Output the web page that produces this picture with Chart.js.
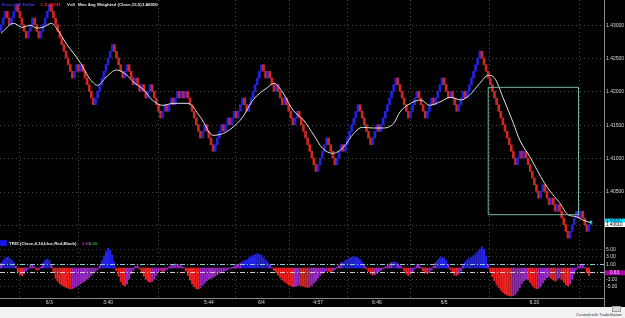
<!DOCTYPE html>
<html>
<head>
<meta charset="utf-8">
<script src="https://cdn.jsdelivr.net/npm/chart.js@4.4.1/dist/chart.umd.min.js"></script>
<style>
  body { margin: 0; background: #000; width: 625px; height: 318px; overflow: hidden; position: relative; font-family: Arial, "Liberation Sans", sans-serif; }
  canvas { position: absolute; left: 0; }
  #main { top: 0; }
  #trix { top: 240px; }
  .t { position: absolute; white-space: nowrap; font-size: 6px; line-height: 7px; font-weight: bold; transform: scale(0.72); transform-origin: 0 0; }
  .sep { position: absolute; background: #8a8a8a; }
  #foot { position: absolute; left: 0; top: 307px; width: 625px; height: 11px; background: #f2f2f2; }
</style>
</head>
<body>
<canvas id="main" width="625" height="240"></canvas>
<canvas id="trix" width="625" height="67"></canvas>

<div class="sep" style="left:604px;top:0;width:1px;height:307px"></div>
<div class="sep" style="left:0;top:298px;width:604px;height:1px"></div>

<div class="t" style="left:2px;top:2px;color:#3c3cff">Euro / US Dollar</div>
<div class="t" style="left:41px;top:2px;color:#ff3030">L-0.01731</div>
<div class="t" style="left:67px;top:2px;color:#e8e8e8">V=0</div>
<div class="t" style="left:78px;top:2px;color:#e8e8e8">Mov Avg Weighted (Close,15,0)</div>
<div class="t" style="left:142px;top:2px;color:#ffffff">1.40010</div>

<div style="position:absolute;left:0;top:240px;width:7px;height:6px;background:#1414dc"></div>
<div class="t" style="left:9px;top:241px;color:#e8e8e8">TRIX (Close,4,14,blue,Red,Black)</div>
<div class="t" style="left:82px;top:241px;color:#b030b0">0.63</div>
<div class="t" style="left:89px;top:241px;color:#30b030">0.00</div>

<div id="foot">
  <div style="position:absolute;left:612px;top:-1px;width:7px;height:4px;background:#d8d8d8;border:1px solid #a0a0a0"></div>
  <div class="t" style="left:576px;top:6px;color:#333;font-weight:normal;transform:scale(0.66)">Created with TradeStation</div>
</div>

<script>
// renko brick closes, 0.001 box
const brickSize = 0.001;
const closes = [
  1.4301, 1.4311, 1.4321, 1.4311, 1.4301, 1.4311, 1.4321, 1.4331, 1.4321, 1.4311,
  1.4301, 1.4291, 1.4281, 1.4291, 1.4301, 1.4311, 1.4301, 1.4291, 1.4281, 1.4291,
  1.4301, 1.4311, 1.4321, 1.4331, 1.4321, 1.4311, 1.4301, 1.4291, 1.4281, 1.4271,
  1.4261, 1.4251, 1.4241, 1.4231, 1.4221, 1.4231, 1.4241, 1.4231, 1.4241, 1.4231,
  1.4221, 1.4211, 1.4201, 1.4191, 1.4181, 1.4191, 1.4201, 1.4211, 1.4221, 1.4231,
  1.4241, 1.4251, 1.4261, 1.4271, 1.4261, 1.4251, 1.4241, 1.4231, 1.4221, 1.4231,
  1.4241, 1.4231, 1.4221, 1.4211, 1.4221, 1.4211, 1.4201, 1.4211, 1.4201, 1.4191,
  1.4201, 1.4211, 1.4201, 1.4191, 1.4181, 1.4171, 1.4161, 1.4171, 1.4181, 1.4171,
  1.4181, 1.4191, 1.4181, 1.4191, 1.4201, 1.4191, 1.4201, 1.4191, 1.4201, 1.4191,
  1.4181, 1.4171, 1.4161, 1.4151, 1.4141, 1.4131, 1.4141, 1.4151, 1.4141, 1.4131,
  1.4121, 1.4111, 1.4121, 1.4131, 1.4141, 1.4151, 1.4141, 1.4151, 1.4161, 1.4151,
  1.4161, 1.4171, 1.4161, 1.4171, 1.4181, 1.4191, 1.4181, 1.4171, 1.4181, 1.4191,
  1.4201, 1.4211, 1.4221, 1.4231, 1.4241, 1.4231, 1.4221, 1.4231, 1.4221, 1.4211,
  1.4201, 1.4211, 1.4201, 1.4191, 1.4181, 1.4191, 1.4181, 1.4171, 1.4161, 1.4151,
  1.4161, 1.4171, 1.4161, 1.4151, 1.4141, 1.4131, 1.4121, 1.4111, 1.4101, 1.4091,
  1.4081, 1.4091, 1.4101, 1.4111, 1.4121, 1.4131, 1.4121, 1.4111, 1.4101, 1.4091,
  1.4101, 1.4111, 1.4121, 1.4111, 1.4121, 1.4131, 1.4141, 1.4151, 1.4161, 1.4171,
  1.4181, 1.4171, 1.4161, 1.4151, 1.4141, 1.4131, 1.4121, 1.4131, 1.4141, 1.4151,
  1.4141, 1.4151, 1.4161, 1.4171, 1.4181, 1.4191, 1.4201, 1.4211, 1.4221, 1.4211,
  1.4201, 1.4191, 1.4181, 1.4171, 1.4161, 1.4171, 1.4181, 1.4191, 1.4201, 1.4191,
  1.4181, 1.4171, 1.4161, 1.4171, 1.4181, 1.4191, 1.4181, 1.4191, 1.4201, 1.4211,
  1.4221, 1.4211, 1.4201, 1.4191, 1.4201, 1.4191, 1.4181, 1.4171, 1.4181, 1.4191,
  1.4201, 1.4191, 1.4201, 1.4211, 1.4221, 1.4231, 1.4241, 1.4251, 1.4261, 1.4251,
  1.4241, 1.4231, 1.4221, 1.4211, 1.4201, 1.4191, 1.4181, 1.4171, 1.4161, 1.4151,
  1.4141, 1.4131, 1.4121, 1.4111, 1.4101, 1.4091, 1.4101, 1.4111, 1.4101, 1.4111,
  1.4101, 1.4091, 1.4081, 1.4071, 1.4061, 1.4051, 1.4041, 1.4051, 1.4061, 1.4051,
  1.4041, 1.4031, 1.4041, 1.4031, 1.4021, 1.4031, 1.4021, 1.4011, 1.4001, 1.3991,
  1.3981, 1.3991, 1.4001, 1.4011, 1.4021, 1.4011, 1.4021, 1.4011, 1.4001, 1.3991,
  1.4001
];

// weighted moving average (15)
const maIndex = [0, 6, 10, 14, 17, 20, 24, 27, 31, 38, 42, 46, 50, 55, 60, 63, 68, 72, 77, 82,
  89, 95, 101, 106, 110, 115, 120, 127, 130, 134, 139, 144, 149, 153, 158, 163, 168, 172, 177, 182,
  187, 190, 195, 200, 204, 209, 214, 219, 223, 228, 232, 235, 239, 244, 247, 252, 257, 261, 266, 270,
  274, 277, 281];
const maValues = [1.4288, 1.4303, 1.4297, 1.4300, 1.4296, 1.4297, 1.4303, 1.4293, 1.4273, 1.4243,
  1.4221, 1.4210, 1.4222, 1.4233, 1.4225, 1.4215, 1.4203, 1.4188, 1.4180, 1.4183,
  1.4183, 1.4162, 1.4135, 1.4138, 1.4146, 1.4162, 1.4188, 1.4207, 1.4213, 1.4200,
  1.4173, 1.4158, 1.4135, 1.4116, 1.4108, 1.4117, 1.4138, 1.4147, 1.4146, 1.4146,
  1.4153, 1.4170, 1.4183, 1.4188, 1.4180, 1.4185, 1.4192, 1.4188, 1.4195, 1.4213,
  1.4225, 1.4221, 1.4192, 1.4153, 1.4128, 1.4102, 1.4073, 1.4053, 1.4034, 1.4016,
  1.4013, 1.4008, 1.4004];

// TRIX histogram, one value per brick
const trixValues = [
  1.2, 2.0, 2.6, 2.9, 2.7, 2.2, 1.5, 0.5, -1.0, -1.8,
  -2.1, -1.6, -0.8, -0.2, 0.8, 1.0, 0.3, -0.6, -0.4, 0.3,
  1.2, 2.0, 2.4, 2.0, 1.0, -1.2, -2.8, -3.6, -4.2, -4.6,
  -4.9, -5.2, -5.4, -5.6, -5.5, -5.3, -4.9, -4.6, -4.2, -3.8,
  -3.5, -3.0, -2.6, -2.0, -1.4, -0.9, -0.4, 0.8, 2.0, 3.2,
  4.4, 5.3, 4.8, 3.4, 1.6, -0.8, -2.2, -3.6, -4.5, -4.8,
  -4.2, -3.0, -1.6, -0.6, 0.4, 0.6, -0.3, -1.2, -2.2, -3.0,
  -3.5, -3.8, -3.6, -3.0, -2.0, -1.0, -0.6, -1.0, -0.8, -0.4,
  0.3, 0.6, 0.9, 1.1, 1.0, 0.8, 0.5, 0.2, -0.8, -2.0,
  -3.2, -4.3, -5.0, -5.5, -5.6, -5.2, -4.6, -4.0, -3.4, -3.0,
  -2.8, -2.5, -2.2, -1.8, -1.4, -1.1, -0.9, -0.7, -0.4, -0.2,
  0.2, 0.5, 0.8, 1.0, 1.3, 1.7, 2.0, 2.2, 2.6, 3.0,
  3.3, 3.6, 3.8, 3.7, 3.4, 2.8, 2.2, 1.5, 0.8, 0.1,
  -0.6, -1.2, -1.9, -2.6, -3.2, -3.7, -4.1, -4.5, -4.8, -5.0,
  -4.9, -4.7, -4.6, -4.7, -4.9, -5.1, -5.2, -5.0, -4.6, -4.0,
  -3.4, -2.7, -2.0, -1.4, -1.0, -0.8, -0.9, -1.0, -0.8, -0.4,
  0.2, 0.8, 1.3, 1.6, 2.0, 2.4, 2.7, 2.9, 3.0, 2.9,
  2.7, 2.2, 1.5, 0.7, -0.2, -1.0, -1.6, -1.9, -1.8, -1.4,
  -1.0, -0.6, -0.2, 0.3, 0.7, 1.1, 1.4, 1.6, 1.5, 1.1,
  0.6, 0.1, -0.8, -1.6, -2.0, -1.7, -1.0, -0.2, 0.8, 1.0,
  0.2, -0.8, -1.4, -1.5, -1.2, -0.6, 0.5, 1.4, 2.2, 2.8,
  2.9, 2.6, 2.0, 1.0, -0.5, -1.3, -1.9, -2.0, -1.6, -0.8,
  0.6, 1.6, 2.2, 2.6, 2.9, 3.3, 3.8, 4.4, 5.0, 5.6,
  5.0, 3.2, 1.0, -1.0, -2.4, -3.4, -4.4, -5.2, -5.9, -6.5,
  -6.9, -7.2, -7.4, -7.5, -7.4, -7.0, -6.2, -5.2, -4.2, -3.4,
  -3.0, -3.2, -3.9, -4.6, -5.2, -5.5, -5.4, -4.9, -4.0, -3.2,
  -2.6, -2.4, -2.8, -3.2, -3.5, -3.0, -2.6, -3.0, -3.8, -4.5,
  -4.8, -4.2, -3.0, -1.6, -0.4, 0.6, 1.0, 0.8, 0.2, -1.2,
  -2.0
];

const timeLabels = ['6/3', '3:40', '5:44', '6/4', '4:57', '6:46', '6/5', '6:20'];
const timeIndex = [23, 51, 99, 124, 151, 179, 211, 254];
const priceTicks = [1.400, 1.405, 1.410, 1.415, 1.420, 1.425, 1.430];
const trixTicks = [-5, -3, -1, 1, 3, 5];
const trixLevels = [1, -1];
const trixLastText = '0.63';
const lastPrices = [1.40067, 1.40010];
const boxIndex = [232, 275];
const boxPrices = [1.4207, 1.4016];

const upColor = 'rgb(35,35,220)';
const downColor = 'rgb(210,38,34)';
const xMin = -0.476, xMax = 287.14;

const bricks = closes.map((c, i) => ({ x: i, y: [i ? closes[i - 1] : c - brickSize, c] }));
const brickColors = closes.map((c, i) => (i === 0 || c > closes[i - 1]) ? upColor : downColor);

const trixColors = trixValues.map((v, i) => {
    if (v >= 1.5) return 'rgb(35,35,235)';
    if (v < 0 && (i === 0 || v <= trixValues[i - 1])) return 'rgb(235,35,35)';
    return 'rgb(150,40,195)';
});

const tickFont = { family: 'Arial', size: 5 };

function xAxis(showLabels) {
    return {
        type: 'linear', min: xMin, max: xMax, offset: false,
        afterBuildTicks: s => { s.ticks = timeIndex.map(v => ({ value: v })); },
        afterFit: s => {
            s.height = showLabels ? 9 : 0;
            s.paddingLeft = 0; s.paddingRight = 0;
        },
        ticks: {
            display: showLabels, autoSkip: false, maxRotation: 0, padding: 2,
            color: '#d8d8d8', font: tickFont,
            callback: (v, k) => timeLabels[k]
        },
        grid: { color: '#4a4a4a', lineWidth: 1, drawTicks: false },
        border: { display: false, dash: [1, 3] }
    };
}

const priceBoxes = {
    id: 'priceBoxes',
    afterDraw(chart) {
        const { ctx, scales: { y }, chartArea } = chart;
        const styles = [['#00e8ff', '#002060'], ['#ffffff', '#000000']];
        ctx.save();
        ctx.font = '4.6px Arial';
        ctx.textBaseline = 'middle';
        lastPrices.forEach((p, k) => {
            const py = y.getPixelForValue(p);
            ctx.fillStyle = styles[k][0];
            ctx.fillRect(chartArea.right + 1, py - 2.3, 20, 4.6);
            ctx.fillStyle = styles[k][1];
            ctx.fillText(p.toFixed(5), chartArea.right + 2, py + 0.3);
        });
        ctx.restore();
    }
};

new Chart(document.getElementById('main'), {
    type: 'bar',
    data: {
        datasets: [
            {
                type: 'line', order: 0,
                data: [
                    { x: boxIndex[0], y: boxPrices[0] }, { x: boxIndex[1], y: boxPrices[0] },
                    { x: boxIndex[1], y: boxPrices[1] }, { x: boxIndex[0], y: boxPrices[1] },
                    { x: boxIndex[0], y: boxPrices[0] }
                ],
                borderColor: 'rgb(120,178,162)', borderWidth: 1, pointRadius: 0, tension: 0
            },
            {
                type: 'line', order: 1,
                data: maIndex.map((x, k) => ({ x, y: maValues[k] })),
                borderColor: 'rgb(225,225,225)', borderWidth: 1, pointRadius: 0,
                cubicInterpolationMode: 'monotone'
            },
            {
                type: 'bar', order: 2, grouped: false,
                data: [{ x: closes.length, y: [lastPrices[1], lastPrices[0]] }],
                backgroundColor: 'rgba(0,0,0,0)', borderColor: 'rgb(0,230,255)', borderWidth: 1,
                barThickness: 2
            },
            {
                type: 'bar', order: 3, grouped: false,
                data: bricks,
                backgroundColor: brickColors,
                borderWidth: 0,
                barThickness: 2
            }
        ]
    },
    options: {
        responsive: false, animation: false,
        layout: { padding: 0 },
        plugins: { legend: { display: false }, tooltip: { enabled: false } },
        scales: {
            x: xAxis(false),
            y: {
                position: 'right', min: 1.397802, max: 1.433794,
                afterBuildTicks: s => { s.ticks = priceTicks.map(v => ({ value: v })); },
                afterFit: s => { s.width = 21; s.paddingTop = 0; s.paddingBottom = 0; },
                ticks: {
                    padding: 2, color: '#d8d8d8', font: tickFont,
                    callback: (v, k) => k === 0 ? '' : v.toFixed(5)
                },
                grid: { color: '#4a4a4a', lineWidth: 1, drawTicks: false },
                border: { display: false, dash: [1, 3] }
            }
        }
    },
    plugins: [priceBoxes]
});

const trixRefs = {
    id: 'trixRefs',
    afterDatasetsDraw(chart) {
        const { ctx, scales: { y }, chartArea } = chart;
        const colors = ['rgb(140,200,210)', 'rgb(205,205,205)'];
        ctx.save();
        ctx.lineWidth = 1;
        ctx.setLineDash([5, 2, 1, 2]);
        trixLevels.forEach((lv, k) => {
            const py = Math.round(y.getPixelForValue(lv)) + 0.5;
            ctx.strokeStyle = colors[k];
            ctx.beginPath();
            ctx.moveTo(chartArea.left, py);
            ctx.lineTo(chartArea.right, py);
            ctx.stroke();
        });
        ctx.setLineDash([]);
        const py = y.getPixelForValue(-1) + 1;
        ctx.fillStyle = 'rgb(175,0,175)';
        ctx.fillRect(chartArea.right + 1, py - 2.4, 20, 4.8);
        ctx.fillStyle = '#ffd0ff';
        ctx.font = '4.6px Arial';
        ctx.textBaseline = 'middle';
        ctx.fillText(trixLastText, chartArea.right + 6, py + 0.3);
        ctx.restore();
    }
};

new Chart(document.getElementById('trix'), {
    type: 'bar',
    data: {
        datasets: [{
            data: trixValues.map((v, i) => ({ x: i, y: v })),
            backgroundColor: trixColors,
            borderWidth: 0,
            barThickness: 1.4
        }]
    },
    options: {
        responsive: false, animation: false,
        layout: { padding: 0 },
        plugins: { legend: { display: false }, tooltip: { enabled: false } },
        scales: {
            x: xAxis(true),
            y: {
                position: 'right', min: -8, max: 7.47,
                afterBuildTicks: s => { s.ticks = trixTicks.map(v => ({ value: v })); },
                afterFit: s => { s.width = 21; s.paddingTop = 0; s.paddingBottom = 0; },
                ticks: {
                    padding: 2, color: '#d8d8d8', font: tickFont,
                    callback: v => v === -1 ? '' : v.toFixed(2)
                },
                grid: {
                    color: ctx => Math.abs(ctx.tick.value) === 1 ? 'rgba(0,0,0,0)' : '#3c3c3c',
                    lineWidth: 1, drawTicks: false
                },
                border: { display: false, dash: [1, 3] }
            }
        }
    },
    plugins: [trixRefs]
});
</script>
</body>
</html>
